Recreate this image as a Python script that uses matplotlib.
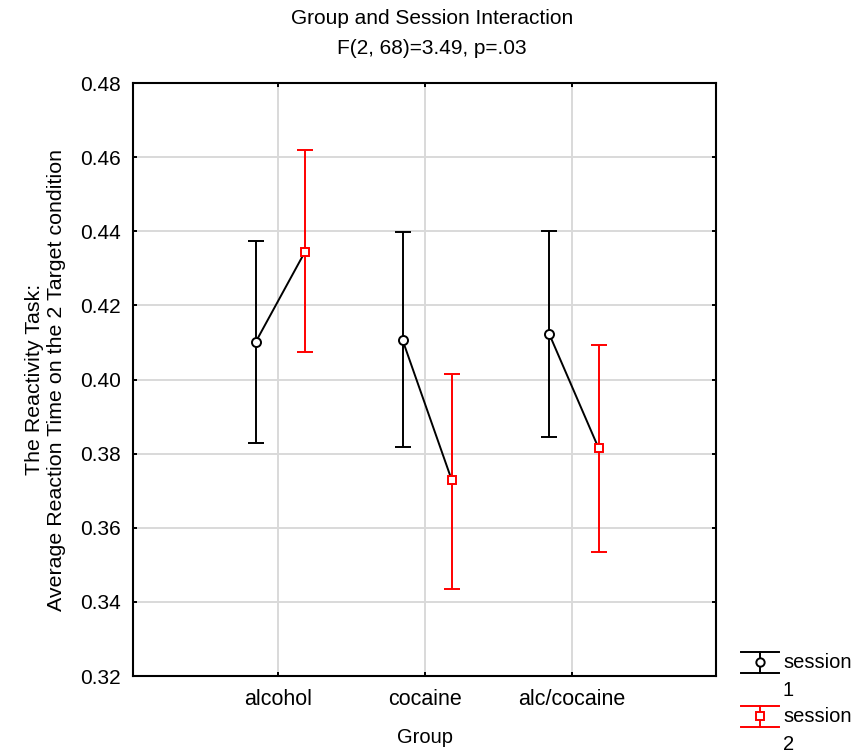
import matplotlib
matplotlib.use('agg')
import matplotlib.pyplot as plt
import numpy as np

plt.rcParams['font.family'] = ['Liberation Sans', 'DejaVu Sans']

groups = ['alcohol', 'cocaine', 'alc/cocaine']
s1_mean = [0.4101, 0.4107, 0.4122]
s1_low = [0.3828, 0.3817, 0.3845]
s1_high = [0.4373, 0.4398, 0.4402]
s2_mean = [0.4344, 0.3729, 0.3815]
s2_low = [0.4073, 0.3435, 0.3535]
s2_high = [0.4618, 0.4016, 0.4092]
legend_labels = [('session', '1'), ('session', '2')]

x = np.arange(len(groups))
off1 = -0.155
off2 = 0.18

fig = plt.figure(figsize=(8.6, 7.56), dpi=100)
ax = fig.add_axes([0.1547, 0.1058, 0.6779, 0.7844])

# connecting lines (session 1 -> session 2 within each group)
for i in range(len(groups)):
    ax.plot([x[i] + off1, x[i] + off2], [s1_mean[i], s2_mean[i]], color='k', lw=1.4, zorder=3)

m1 = np.array(s1_mean)
m2 = np.array(s2_mean)
e1 = [m1 - np.array(s1_low), np.array(s1_high) - m1]
e2 = [m2 - np.array(s2_low), np.array(s2_high) - m2]

ax.errorbar(x + off1, m1, yerr=e1, fmt='o', color='k', mfc='white', mec='k',
            ms=6.5, mew=1.4, ecolor='k', elinewidth=1.4, capsize=6, capthick=1.4, zorder=4)
ax.errorbar(x + off2, m2, yerr=e2, fmt='s', color='red', mfc='white', mec='red',
            ms=6, mew=1.4, ecolor='red', elinewidth=1.4, capsize=6, capthick=1.4, zorder=4)

ax.set_xlim(-0.99, 2.98)
ax.set_ylim(0.32, 0.48)
ax.set_xticks(x)
ax.set_xticklabels(groups, fontsize=15.5)
yt = np.arange(0.32, 0.481, 0.02)
ax.set_yticks(yt)
ax.set_yticklabels(['%.2f' % v for v in yt], fontsize=15)
ax.grid(True, color='#d9d9d9', lw=1.4)
ax.set_axisbelow(True)
ax.tick_params(direction='in', length=3, width=1.4, top=True, right=True)
ax.tick_params(axis='x', pad=9)
ax.tick_params(axis='y', pad=9)
for sp in ax.spines.values():
    sp.set_linewidth(1.5)

ax.set_xlabel('Group', fontsize=14.5, labelpad=13)
ax.set_ylabel('The Reactivity Task:\nAverage Reaction Time on the 2 Target condition',
              fontsize=15.4, labelpad=10, linespacing=1.2)
fig.text(432 / 860, 1 - 18 / 756, 'Group and Session Interaction', ha='center', va='center', fontsize=15)
fig.text(432 / 860, 1 - 49 / 756, 'F(2, 68)=3.49, p=.03', ha='center', va='center', fontsize=15)

# legend drawn in pixel space of the figure
lax = fig.add_axes([0, 0, 1, 1], zorder=-1)
lax.set_xlim(0, 860)
lax.set_ylim(756, 0)
lax.axis('off')
leg_items = [('k', 'o', 662), ('red', 's', 716)]
for (c, mk, yc), (l1, l2) in zip(leg_items, legend_labels):
    lax.plot([760, 760], [yc - 10.5, yc + 10.5], color=c, lw=1.4)
    lax.plot([741, 779], [yc - 10.5, yc - 10.5], color=c, lw=1.4)
    lax.plot([741, 779], [yc + 10.5, yc + 10.5], color=c, lw=1.4)
    lax.plot([760], [yc], marker=mk, color=c, mfc='white', mec=c, ms=6, mew=1.4)
    lax.text(783, yc + 1, l1, ha='left', va='center', fontsize=14.5)
    lax.text(783, yc + 28, l2, ha='left', va='center', fontsize=14.5)

plt.savefig('out.png', dpi=100)
